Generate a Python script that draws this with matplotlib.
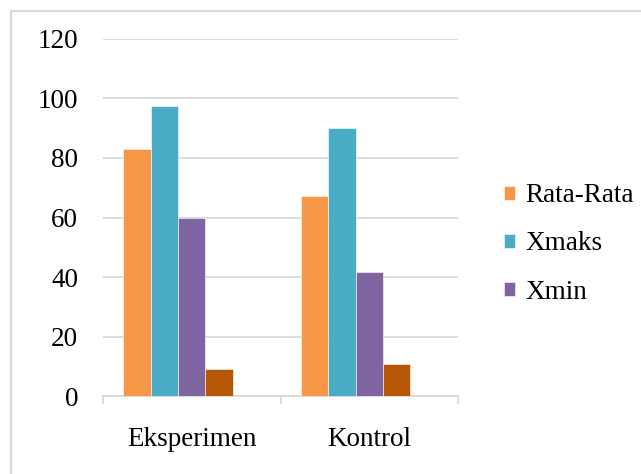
import matplotlib
matplotlib.use("Agg")
import matplotlib.pyplot as plt
import numpy as np
from matplotlib.patches import Rectangle

# Data
categories = ["Eksperimen", "Kontrol"]
series_names = ["Rata-Rata", "Xmaks", "Xmin", ""]
rata_rata = [82.9, 67.2]
xmaks = [97.5, 90.0]
xmin = [60.0, 41.7]
extra = [9.0, 11.0]
y_ticks = [0, 20, 40, 60, 80, 100, 120]

series_values = [rata_rata, xmaks, xmin, extra]
colors = ["#F79646", "#4BACC6", "#8064A2", "#B65708"]

plt.rcParams["font.family"] = ["Liberation Serif", "DejaVu Serif"]
FS = 19.5

W, H = 641, 474
fig = plt.figure(figsize=(W / 100, H / 100), dpi=100)

# outer chart frame
fig.patches.append(Rectangle((11 / W, -0.05), 1.0, 1 - 11 / H + 0.05,
                             transform=fig.transFigure, fill=False,
                             edgecolor="#d9d9d9", linewidth=1.5))

ax = fig.add_axes([103 / W, 1 - 396.3 / H, (458 - 103) / W, (396.3 - 38.7) / H])

x = np.arange(len(categories))
w = 0.1545
handles = []
for i, (vals, c, name) in enumerate(zip(series_values, colors, series_names)):
    b = ax.bar(x + (i - 2) * w, vals, width=w, color=c, edgecolor="white",
               linewidth=0.4, zorder=3, label=name)
    handles.append(b)

ax.set_xlim(-0.5, 1.5)
ax.set_ylim(0, 120)
ax.set_yticks(y_ticks)
ax.yaxis.grid(True, color="#d9d9d9", linewidth=1.3, zorder=0)
ax.set_axisbelow(True)

for s in ["top", "right", "left"]:
    ax.spines[s].set_visible(False)
ax.spines["bottom"].set_color("#d9d9d9")
ax.spines["bottom"].set_linewidth(1.3)

ax.set_xticks(x)
ax.set_xticklabels(categories)
ax.tick_params(axis="x", which="major", length=0, pad=22, labelsize=FS)
ax.set_xticks([-0.5, 0.5, 1.5], minor=True)
ax.tick_params(axis="x", which="minor", length=6, color="#d9d9d9", width=1.3)
ax.tick_params(axis="y", length=0, pad=18, labelsize=FS)

leg = fig.legend(handles[:3], series_names[:3], loc="center left",
                 bbox_to_anchor=(490 / W, 1 - 244 / H), frameon=False,
                 fontsize=FS, handlelength=0.42, handleheight=0.42,
                 handletextpad=0.4, labelspacing=0.85, borderpad=0)

fig.savefig("out.png", dpi=100)
